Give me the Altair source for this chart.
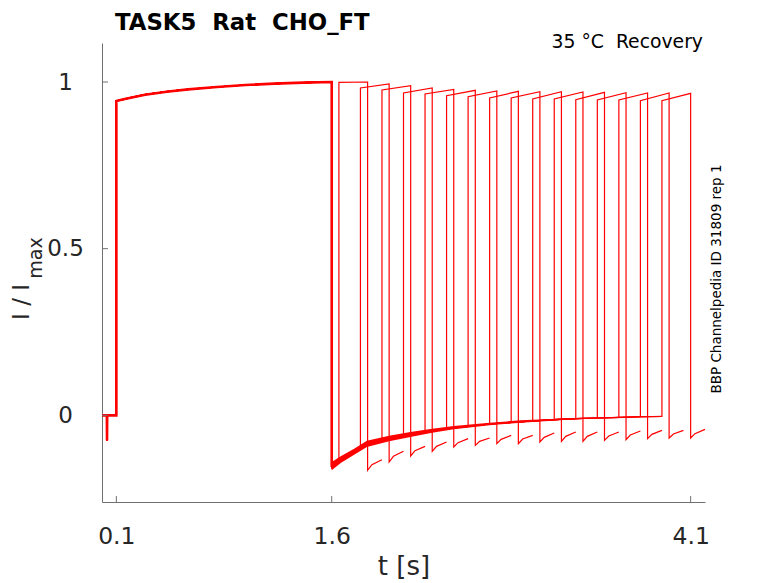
import altair as alt
import pandas as pd

# ---------------- data ----------------
# pre-pulse holding segment (with small artefact spike)
pre_t = [0.0, 0.034, 0.035, 0.036, 0.1]
pre_v = [0.0, 0.0, -0.075, 0.0, 0.0]

# first (conditioning) pulse
main_t = [0.1, 0.15, 0.2, 0.3, 0.45, 0.6, 0.8, 1.0, 1.2, 1.4, 1.6]
main_v = [0.943, 0.948, 0.953, 0.962, 0.971, 0.978, 0.985, 0.991, 0.995, 0.998, 1.0]

# tail current after the first pulse (centre line)
tail_t = [1.6, 1.62, 1.65, 1.7, 1.75, 1.8, 1.875, 1.95, 2.1, 2.25, 2.4, 2.55,
          2.7, 2.85, 3.0, 3.15, 3.3, 3.45, 3.6, 3.75, 3.9]
tail_v = [-0.155, -0.145, -0.134, -0.12, -0.11, -0.098, -0.082, -0.073, -0.061,
          -0.05, -0.04, -0.033, -0.026, -0.021, -0.017, -0.013, -0.01, -0.008,
          -0.006, -0.004, -0.003]

# spread of the overlapping tails (upper / lower edge of the band)
band_t = [1.6, 1.663, 1.756, 1.845, 2.0, 2.148, 2.3, 2.45, 2.7, 2.915, 3.3, 3.9]
band_hi = [-0.14, -0.123, -0.1, -0.076, -0.061, -0.05, -0.04, -0.032, -0.022,
           -0.015, -0.008, -0.001]
band_lo = [-0.165, -0.143, -0.118, -0.095, -0.078, -0.065, -0.052, -0.042, -0.03,
           -0.022, -0.012, -0.005]

# test pulses (one per sweep)
pulse_t0 = [1.65, 1.8, 1.95, 2.1, 2.25, 2.4, 2.55, 2.7, 2.85, 3.0, 3.15, 3.3,
            3.45, 3.6, 3.75, 3.9]
pulse_dur = 0.2
pulse_top = [0.999, 0.982, 0.976, 0.967, 0.964, 0.959, 0.956, 0.952, 0.952,
             0.949, 0.949, 0.947, 0.946, 0.946, 0.944, 0.944]
pulse_end = [1.0, 0.994, 0.989, 0.982, 0.978, 0.975, 0.973, 0.972, 0.971,
             0.971, 0.970, 0.969, 0.968, 0.967, 0.967, 0.966]

# tail after each test pulse
seg_mid_dt = 0.03
seg_dur = 0.1
seg_start = [-0.165, -0.14, -0.122, -0.108, -0.095, -0.09, -0.085, -0.085,
             -0.08, -0.078, -0.078, -0.075, -0.073, -0.07, -0.068, -0.068]
seg_mid = [-0.148, -0.123, -0.106, -0.093, -0.082, -0.078, -0.072, -0.071,
           -0.066, -0.063, -0.063, -0.062, -0.059, -0.057, -0.056, -0.055]
seg_end = [-0.133, -0.108, -0.093, -0.08, -0.07, -0.068, -0.06, -0.06,
           -0.053, -0.05, -0.05, -0.05, -0.047, -0.045, -0.045, -0.042]

x_ticks = [0.1, 1.6, 4.1]
y_ticks = [0, 0.5, 1]
x_domain = [0.0, 4.2]
y_domain = [-0.26, 1.117]

NB = "\u00a0"
title_txt = "TASK5" + NB + " Rat" + NB + " CHO_FT"
sub_txt = "35 °C" + NB + " Recovery"
side_txt = "BBP Channelpedia ID 31809 rep 1"

# ---------------- tables ----------------
rows = []
for k, t0 in enumerate(pulse_t0):
    pts = list(zip(pre_t, pre_v)) + list(zip(main_t, main_v))
    pts += [(t, v) for t, v in zip(tail_t, tail_v) if t <= t0 + 1e-9]
    pts += [(t0, pulse_top[k]), (t0 + pulse_dur, pulse_end[k]),
            (t0 + pulse_dur, seg_start[k]),
            (t0 + pulse_dur + seg_mid_dt, seg_mid[k]),
            (t0 + pulse_dur + seg_dur, seg_end[k])]
    for i, (t, v) in enumerate(pts):
        rows.append({"sweep": k, "i": i, "t": t, "v": v})
df = pd.DataFrame(rows)

common = pd.DataFrame({
    "t": pre_t + main_t + [1.6],
    "v": pre_v + main_v + [tail_v[0]],
})
common["i"] = range(len(common))

band = pd.DataFrame({"t": band_t, "hi": band_hi, "lo": band_lo})

W, H = 603, 459
FONT = "DejaVu Sans"
RED = "#ff0000"
AX = "#707070"

xs = alt.Scale(domain=x_domain, nice=False, zero=False)
ys = alt.Scale(domain=y_domain, nice=False, zero=False)

x_axis = alt.Axis(values=x_ticks, format="~g", title=None, ticks=False, grid=False,
                  domainColor=AX, labelFont=FONT, labelFontSize=23.5,
                  labelColor="#262626", labelPadding=22, labelFlush=False)
y_axis = alt.Axis(values=y_ticks, format="~g", title=None, ticks=False, grid=False,
                  domainColor=AX, labelFont=FONT, labelFontSize=23,
                  labelColor="#262626", labelPadding=37, labelAlign="center")

band_layer = alt.Chart(band).mark_area(color=RED, opacity=1).encode(
    x=alt.X("t:Q", scale=xs, axis=x_axis),
    y=alt.Y("hi:Q", scale=ys, axis=y_axis),
    y2="lo:Q",
)

sweeps = alt.Chart(df).mark_line(color=RED, strokeWidth=1.2).encode(
    x=alt.X("t:Q", scale=xs),
    y=alt.Y("v:Q", scale=ys),
    detail="sweep:N",
    order="i:Q",
)

common_layer = alt.Chart(common).mark_line(color=RED, strokeWidth=2.6).encode(
    x=alt.X("t:Q", scale=xs),
    y=alt.Y("v:Q", scale=ys),
    order="i:Q",
)

xt = alt.Chart(pd.DataFrame({"t": x_ticks})).mark_rule(color=AX).encode(
    x=alt.X("t:Q", scale=xs), y=alt.value(H), y2=alt.value(H - 6))
yt = alt.Chart(pd.DataFrame({"v": y_ticks})).mark_rule(color=AX).encode(
    y=alt.Y("v:Q", scale=ys), x=alt.value(0), x2=alt.value(6))


def txt(s, x, y, size, **kw):
    return alt.Chart(pd.DataFrame({"s": [s]})).mark_text(
        font=FONT, fontSize=size, **kw).encode(
        text="s:N", x=alt.value(x), y=alt.value(y))


title = txt(title_txt, 13, -13.5, 22.8, fontWeight="bold", align="left",
            baseline="alphabetic", color="black")
sub = txt(sub_txt, 601, 5, 18.8, align="right", baseline="alphabetic", color="black")
side = txt(side_txt, 615, 236, 13.5, angle=270, align="center", baseline="middle",
           color="black")
xlab = txt("t [s]", 302, 532, 26, align="center", baseline="alphabetic",
           color="#262626")
ylab1 = txt("I / I", -73, 259, 23, angle=270, align="center", baseline="alphabetic",
            color="#262626")
ylab2 = txt("max", -60, 215, 19, angle=270, align="center", baseline="alphabetic",
            color="#262626")

chart = alt.layer(
    band_layer, sweeps, common_layer, xt, yt, title, sub, side, xlab, ylab1, ylab2
).properties(
    width=W, height=H,
    padding={"left": 94, "top": 35, "right": 60, "bottom": 80},
    autosize=alt.AutoSizeParams(type="none"),
).configure_view(stroke=None)

chart.save("out.html", embed_options={"renderer": "svg", "actions": False})
